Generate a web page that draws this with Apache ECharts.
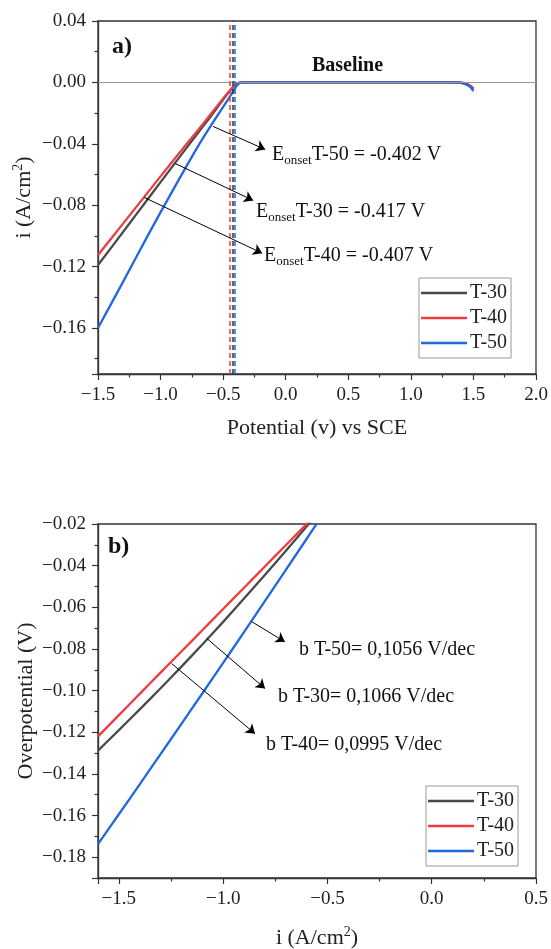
<!DOCTYPE html>
<html>
<head>
<meta charset="utf-8">
<script src="https://cdn.jsdelivr.net/npm/echarts@6/dist/echarts.min.js"></script>
<style>
  html, body { margin: 0; padding: 0; background: #fff; }
  #chart { width: 551px; height: 949px; }
</style>
</head>
<body>
<div id="chart"></div>
<script>
// ---- data ----
const seriesNames = ['T-30', 'T-40', 'T-50'];
const seriesColors = ['#4a4a4a', '#f03c3c', '#1f69dd'];

// a) LSV curves: potential (V vs SCE) -> current density (A/cm2)
const potential = [-1.5, -1.3, -1.1, -0.9, -0.7, -0.6, -0.5, -0.46, -0.44, -0.42, -0.40, -0.38, -0.36, -0.3, 0, 0.5, 1.0, 1.3, 1.38, 1.42, 1.45, 1.48, 1.5];
const lsvT30 = [-0.119, -0.0975, -0.0758, -0.0542, -0.0328, -0.0222, -0.0112, -0.0070, -0.0049, -0.0030, -0.0014, -0.0004, 0, 0, 0, 0, 0, 0, -0.0002, -0.0005, -0.0011, -0.0025, -0.0042];
const lsvT40 = [-0.1125, -0.092, -0.0715, -0.051, -0.031, -0.0208, -0.0105, -0.0066, -0.0046, -0.0028, -0.0013, -0.0004, 0, 0, 0, 0, 0, 0, -0.0002, -0.0004, -0.0012, -0.0026, -0.0042];
const lsvT50 = [-0.160, -0.130, -0.0995, -0.0700, -0.0415, -0.0285, -0.0160, -0.0110, -0.0085, -0.0058, -0.0032, -0.0012, -0.0002, 0, 0, 0, 0, 0, 0, -0.0006, -0.0017, -0.0035, -0.0057];
const onsetMarks = [-0.445, -0.422, -0.405];   // dashed verticals (T-40, T-30, T-50)

// b) Tafel plots: current -> overpotential (V)
const tafelCurrent = [-1.6, -1.5, -1.4, -1.3, -1.2, -1.1, -1.0, -0.9, -0.8, -0.7, -0.6, -0.55];
const tafelT30 = [-0.1288, -0.1190, -0.1090, -0.0989, -0.0885, -0.0779, -0.0670, -0.0558, -0.0445, -0.0330, -0.0212, -0.0152];
const tafelT40 = [-0.1220, -0.1118, -0.1016, -0.0914, -0.0812, -0.0710, -0.0608, -0.0506, -0.0404, -0.0302, -0.0200, -0.0149];
const tafelT50 = [-0.1737, -0.1594, -0.1450, -0.1305, -0.1160, -0.1014, -0.0867, -0.0719, -0.0570, -0.0421, -0.0272, -0.0197];

// annotation arrows [from, to] in data units
const onsetArrows = [
  [[-0.58, -0.0287], [-0.164, -0.0437]],
  [[-0.884, -0.0528], [-0.26, -0.0769]],
  [[-1.132, -0.0749], [-0.188, -0.1113]]
];
const tafelArrows = [
  [[-0.863, -0.0669], [-0.704, -0.0766]],
  [[-1.079, -0.0749], [-0.799, -0.0990]],
  [[-1.247, -0.0870], [-0.847, -0.1207]]
];

const FONT = 'Liberation Serif, Times New Roman, serif';
const myChart = echarts.init(document.getElementById('chart'), null, { renderer: 'canvas' });

function fmt(dec) {
  return function (v) {
    return (v < 0 ? '\u2212' : '') + Math.abs(v).toFixed(dec);
  };
}
function pairs(xs, ys) {
  return xs.map(function (x, i) { return [x, ys[i]]; });
}

const axisCommon = {
  axisLine: { show: true, onZero: false, lineStyle: { color: '#333', width: 1.3 } },
  axisTick: { show: true, inside: false, length: 6, lineStyle: { color: '#333', width: 1.2 } },
  minorTick: { show: true, splitNumber: 2, length: 3.5, lineStyle: { color: '#333', width: 1.2 } },
  splitLine: { show: false },
  minorSplitLine: { show: false },
  axisLabel: { color: '#222', fontFamily: FONT, fontSize: 19, margin: 12 },
  nameLocation: 'middle',
  nameMoveOverlap: false,
  nameTextStyle: {
    color: '#222', fontFamily: FONT, fontSize: 22,
    rich: {
      a: { fontFamily: FONT, fontSize: 22, color: '#222', lineHeight: 26 },
      sup: { fontFamily: FONT, fontSize: 14, color: '#222', lineHeight: 8, verticalAlign: 'top' }
    }
  }
};

function axis(extra) {
  const o = JSON.parse(JSON.stringify(axisCommon));
  return Object.assign(o, extra);
}

const lineSeries = [];
const lsvData = [lsvT30, lsvT40, lsvT50];
const tafelData = [tafelT30, tafelT40, tafelT50];
for (let i = 0; i < seriesNames.length; i++) {
  lineSeries.push({
    name: seriesNames[i], type: 'line', xAxisIndex: 0, yAxisIndex: 0,
    symbol: 'none', smooth: 0.3, z: 3,
    lineStyle: { color: seriesColors[i], width: 2.3 },
    itemStyle: { color: seriesColors[i] },
    data: pairs(potential, lsvData[i])
  });
}
for (let i = 0; i < seriesNames.length; i++) {
  lineSeries.push({
    name: seriesNames[i], type: 'line', xAxisIndex: 1, yAxisIndex: 1,
    symbol: 'none', smooth: 0.3, z: 3,
    lineStyle: { color: seriesColors[i], width: 2.3 },
    itemStyle: { color: seriesColors[i] },
    data: pairs(tafelCurrent, tafelData[i])
  });
}

const dashColors = [seriesColors[1], '#333', seriesColors[2]];

// helper series holding baseline, onset lines and arrows
lineSeries.push({
  name: 'marks-a', type: 'line', xAxisIndex: 0, yAxisIndex: 0, data: [], z: 2,
  markLine: {
    silent: true, animation: false, symbol: 'none', label: { show: false },
    data: [{ yAxis: 0, lineStyle: { color: '#999', width: 1, type: 'solid' } }].concat(
      onsetMarks.map(function (v, i) {
        return { xAxis: v, lineStyle: { color: dashColors[i], width: 1.5, type: [5, 3] } };
      })
    )
  }
});
lineSeries.push({
  name: 'arrows-a', type: 'line', xAxisIndex: 0, yAxisIndex: 0, data: [], z: 4,
  markLine: {
    silent: true, animation: false, symbol: ['none', 'arrow'], symbolSize: 9,
    label: { show: false },
    lineStyle: { color: '#000', width: 1, type: 'solid' },
    data: onsetArrows.map(function (a) { return [{ coord: a[0] }, { coord: a[1] }]; })
  }
});
lineSeries.push({
  name: 'arrows-b', type: 'line', xAxisIndex: 1, yAxisIndex: 1, data: [], z: 4,
  markLine: {
    silent: true, animation: false, symbol: ['none', 'arrow'], symbolSize: 9,
    label: { show: false },
    lineStyle: { color: '#000', width: 1, type: 'solid' },
    data: tafelArrows.map(function (a) { return [{ coord: a[0] }, { coord: a[1] }]; })
  }
});

const subRich = {
  e: { fontFamily: FONT, fontSize: 20, color: '#111', lineHeight: 24 },
  s: { fontFamily: FONT, fontSize: 13, color: '#111', lineHeight: 8, verticalAlign: 'bottom' }
};
function note(text, x, y, rich) {
  return {
    type: 'text', x: x, y: y, z: 10,
    style: { text: text, fontFamily: FONT, fontSize: 20, fill: '#111', verticalAlign: 'middle', align: 'left', rich: rich }
  };
}
function boldNote(text, x, y, size) {
  return {
    type: 'text', x: x, y: y, z: 10,
    style: { text: text, fontFamily: FONT, fontSize: size, fontWeight: 'bold', fill: '#111', verticalAlign: 'middle', align: 'left' }
  };
}

const legendCommon = {
  data: seriesNames, orient: 'vertical', icon: 'rect', itemWidth: 46, itemHeight: 2.6, itemGap: 5,
  padding: [5, 4, 5, 2], borderColor: '#999', borderWidth: 1, backgroundColor: '#fff',
  textStyle: { fontFamily: FONT, fontSize: 20, color: '#222', padding: [0, 0, 0, -2] },
  selectedMode: false
};

const option = {
  animation: false,
  backgroundColor: '#fff',
  grid: [
    { left: 98, right: 15, top: 21, height: 353, show: true, borderColor: '#333', borderWidth: 1.3, backgroundColor: 'transparent', containLabel: false, outerBoundsMode: 'none' },
    { left: 98, right: 15, top: 524, height: 354, show: true, borderColor: '#333', borderWidth: 1.3, backgroundColor: 'transparent', containLabel: false, outerBoundsMode: 'none' }
  ],
  xAxis: [
    axis({ type: 'value', gridIndex: 0, min: -1.5, max: 2.0, interval: 0.5,
      name: 'Potential (v) vs SCE', nameGap: 43,
      axisLabel: Object.assign({}, axisCommon.axisLabel, { formatter: fmt(1) }) }),
    axis({ type: 'value', gridIndex: 1, min: -1.6, max: 0.5, minInterval: 0.5, maxInterval: 0.5,
      name: '{a|i (A/cm}{sup|2}{a|)}', nameGap: 47,
      axisLabel: Object.assign({}, axisCommon.axisLabel, { formatter: fmt(1), showMinLabel: false }) })
  ],
  yAxis: [
    axis({ type: 'value', gridIndex: 0, min: -0.19, max: 0.04, minInterval: 0.04, maxInterval: 0.04,
      name: '{a|i (A/cm}{sup|2}{a|)}', nameGap: 61,
      axisLabel: Object.assign({}, axisCommon.axisLabel, { formatter: fmt(2), showMinLabel: false }) }),
    axis({ type: 'value', gridIndex: 1, min: -0.19, max: -0.02, minInterval: 0.02, maxInterval: 0.02,
      name: 'Overpotential (V)', nameGap: 61,
      axisLabel: Object.assign({}, axisCommon.axisLabel, { formatter: fmt(2), showMinLabel: false }) })
  ],
  legend: [
    Object.assign({}, legendCommon, { left: 419, top: 278 }),
    Object.assign({}, legendCommon, { left: 426, top: 786 })
  ],
  graphic: [
    boldNote('a)', 112, 47, 24),
    boldNote('b)', 108, 547, 24),
    boldNote('Baseline', 312, 66, 20),
    note('{e|E}{s|onset}{e|T-50 = -0.402 V}', 272, 155, subRich),
    note('{e|E}{s|onset}{e|T-30 = -0.417 V}', 256, 212, subRich),
    note('{e|E}{s|onset}{e|T-40 = -0.407 V}', 264, 256, subRich),
    note('b T-50= 0,1056 V/dec', 299, 650),
    note('b T-30= 0,1066 V/dec', 278, 697),
    note('b T-40= 0,0995 V/dec', 266, 745)
  ],
  series: lineSeries
};

myChart.setOption(option);
window.addEventListener('resize', function () { myChart.resize(); });
</script>
</body>
</html>
